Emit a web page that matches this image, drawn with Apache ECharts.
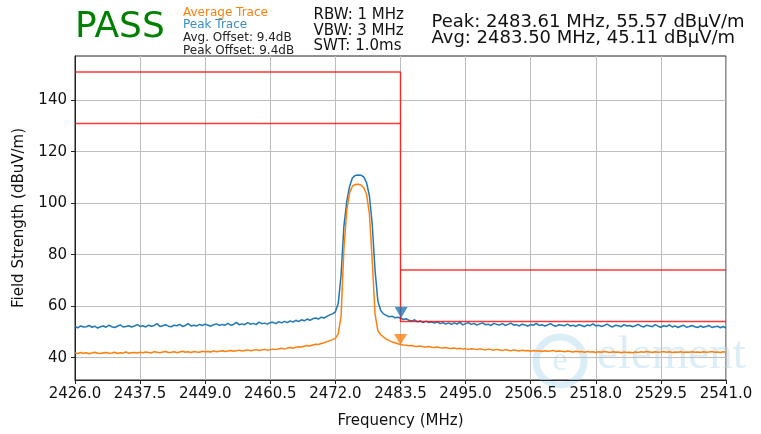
<!DOCTYPE html>
<html><head><meta charset="utf-8">
<script src="https://cdn.jsdelivr.net/npm/echarts@6/dist/echarts.min.js"></script>
<style>html,body{margin:0;padding:0;background:#fff}#c{width:761px;height:434px}</style>
</head><body><div id="c"></div>
<script>
// Sweep definition (MHz)
const sweepStartMHz = 2426.0;
const sweepStepMHz = 0.5;

// Peak trace (dBuV/m), one value per sweep step
const peakTrace = [
52.1,51.6,52.3,51.9,52.0,52.5,51.8,52.2,51.5,52.0,52.3,51.8,52.6,52.0,51.7,52.2,52.7,51.9,52.1,52.4,51.9,52.3,52.8,52.1,
52.4,51.9,52.6,52.2,52.5,53.2,52.1,52.4,52.8,52.2,52.0,52.6,52.4,52.9,52.1,52.5,53.2,52.3,52.6,52.3,52.9,52.5,53.0,
52.6,52.2,52.8,53.1,52.5,52.9,52.6,53.3,52.6,52.9,53.7,52.8,53.1,52.8,53.6,53.0,53.3,52.8,53.8,53.2,53.4,53.0,53.6,
53.7,53.2,54.0,53.5,54.1,53.6,54.3,53.8,54.5,54.0,54.7,54.3,55.0,54.5,55.1,55.4,55.0,55.7,55.4,
56.0,56.6,57.0,57.8,61.0,72.0,91.0,100.5,106.5,109.8,110.8,111.0,110.9,110.2,108.0,103.0,92.0,74.0,62.0,58.3,57.0,56.4,55.9,56.1,55.5,55.7,
55.4,
54.8,55.1,54.5,54.2,54.7,53.9,54.3,53.6,54.2,53.6,53.9,
53.4,53.9,53.2,53.6,53.0,53.5,52.9,53.5,53.0,53.8,52.7,53.2,53.6,52.9,53.3,52.6,53.1,53.5,52.8,53.0,52.5,53.3,52.9,
52.7,53.2,52.5,52.9,53.4,52.6,52.8,52.3,53.0,52.7,52.2,52.9,52.6,53.3,52.5,52.8,52.3,52.7,53.2,52.5,52.2,52.8,52.6,
52.4,53.0,52.3,52.6,52.1,52.8,52.5,52.0,52.7,52.4,53.1,52.3,52.6,52.1,52.5,53.0,52.3,51.9,52.6,52.4,52.0,52.8,52.3,
52.5,52.0,52.4,52.9,52.2,51.9,52.6,52.3,52.0,52.8,52.2,51.8,52.4,52.1,52.7,51.9,52.3,51.7,52.2,52.6,51.8,52.1,52.5,
52.0,51.7,52.3,51.8,52.1,52.5,51.7,52.0,52.2,51.6,52.1,51.5
];

// Average trace (dBuV/m), one value per sweep step
const avgTrace = [
41.8,41.6,42.0,41.7,41.9,41.5,41.8,42.1,41.7,41.6,41.9,42.0,41.7,41.8,42.1,41.6,41.9,41.8,42.2,41.7,41.9,42.0,41.8,42.1,
41.9,42.2,42.0,41.8,42.3,42.1,41.9,42.2,42.4,42.0,42.1,42.3,41.9,42.2,42.5,42.1,42.3,42.0,42.4,42.2,42.1,42.5,42.3,
42.4,42.2,42.6,42.3,42.5,42.7,42.4,42.6,42.8,42.5,42.7,42.9,42.6,42.8,43.0,42.7,42.9,43.1,42.8,43.0,43.2,42.9,43.1,
43.3,43.1,43.4,43.6,43.3,43.7,43.9,43.6,44.0,44.2,44.1,44.4,44.7,44.5,44.9,45.2,45.1,45.5,45.8,
46.2,46.6,47.0,47.5,49.2,56.0,82.0,97.0,104.0,106.6,107.3,107.4,107.1,106.0,103.5,96.0,78.0,57.0,50.5,48.9,48.0,47.2,46.6,46.1,45.8,45.4,
45.11,
44.9,44.8,44.6,44.7,44.4,44.3,44.5,44.2,44.1,44.3,44.0,
43.9,44.1,43.8,43.7,43.9,43.6,43.5,43.7,43.4,43.6,43.3,43.5,43.2,43.4,43.3,43.1,43.4,43.2,43.0,43.3,43.1,42.9,43.2,
43.0,42.8,43.1,42.9,42.7,43.0,42.8,42.6,42.9,42.7,42.8,42.5,42.8,42.6,42.7,42.4,42.7,42.5,42.6,42.8,42.4,42.6,42.5,
42.3,42.6,42.4,42.2,42.5,42.3,42.4,42.1,42.4,42.2,42.3,42.0,42.3,42.1,42.4,42.2,42.0,42.3,42.1,42.2,41.9,42.2,42.0,
42.1,41.9,42.2,42.0,42.3,42.1,42.4,42.2,42.0,42.3,42.1,42.2,42.4,42.1,42.3,42.0,42.2,42.1,42.3,42.0,42.2,42.1,42.3,
42.1,42.2,42.0,42.3,42.1,42.2,42.4,42.1,42.2,42.0,42.3,42.1
];

// Limit lines
const limitPeakFreq = [2426.0, 2483.5, 2483.5, 2541.0];
const limitPeakVal  = [151, 151, 54, 54];
const limitInBandFreq = [2426.0, 2483.5];
const limitInBandVal  = [131, 131];
const limitRestrFreq = [2483.5, 2541.0];
const limitRestrVal  = [74, 74];

// Markers
const peakMarker = [2483.61, 55.57];
const avgMarker  = [2483.50, 45.11];

// Axes
const xTicks = [2426.0, 2437.5, 2449.0, 2460.5, 2472.0, 2483.5, 2495.0, 2506.5, 2518.0, 2529.5, 2541.0];
const yTicks = [40, 60, 80, 100, 120, 140];
const xMin = 2426.0, xMax = 2541.0, yMin = 31.3, yMax = 157.2;

const toPairs = (arr) => arr.map((v, i) => [sweepStartMHz + i * sweepStepMHz, v]);
const zip = (a, b) => a.map((v, i) => [v, b[i]]);

const FONT = 'DejaVu Sans';
const chart = echarts.init(document.getElementById('c'), null, {renderer: 'canvas'});
chart.setOption({
  animation: false,
  backgroundColor: '#fff',
  grid: {left: 75, right: 35, top: 56, bottom: 53, show: true, borderColor: '#222', borderWidth: 1, containLabel: false},
  xAxis: {
    type: 'value', min: xMin, max: xMax,
    name: 'Frequency (MHz)', nameLocation: 'middle', nameGap: 34,
    nameTextStyle: {fontFamily: FONT, fontSize: 15, color: '#111'},
    axisLine: {show: true, lineStyle: {color: '#222', width: 1}},
    axisTick: {show: true, length: 4, inside: false, lineStyle: {color: '#222'}, customValues: xTicks},
    axisLabel: {fontFamily: FONT, fontSize: 15, color: '#111', margin: 7, customValues: xTicks,
      formatter: v => Number(v).toFixed(1)},
    splitLine: {show: true, lineStyle: {color: '#bdbdbd', width: 1}}
  },
  yAxis: {
    type: 'value', min: yMin, max: yMax,
    name: 'Field Strength (dBuV/m)', nameLocation: 'middle', nameGap: 48,
    nameTextStyle: {fontFamily: FONT, fontSize: 15, color: '#111'},
    axisLine: {show: true, lineStyle: {color: '#222', width: 1}},
    axisTick: {show: true, length: 4, inside: false, lineStyle: {color: '#222'}, customValues: yTicks},
    axisLabel: {fontFamily: FONT, fontSize: 15, color: '#111', margin: 8, customValues: yTicks,
      formatter: v => String(Math.round(v))},
    splitLine: {show: true, lineStyle: {color: '#bdbdbd', width: 1}}
  },
  series: [
    {type: 'line', data: toPairs(peakTrace), showSymbol: false, symbol: 'none',
     lineStyle: {color: '#1f77b4', width: 1.5}, z: 2},
    {type: 'line', data: toPairs(avgTrace), showSymbol: false, symbol: 'none',
     lineStyle: {color: '#ff7f0e', width: 1.5}, z: 2},
    {type: 'line', data: zip(limitPeakFreq, limitPeakVal), symbol: 'none',
     lineStyle: {color: 'rgba(255,0,0,0.78)', width: 1.5}, z: 3},
    {type: 'line', data: zip(limitInBandFreq, limitInBandVal), symbol: 'none',
     lineStyle: {color: 'rgba(255,0,0,0.78)', width: 1.5}, z: 3},
    {type: 'line', data: zip(limitRestrFreq, limitRestrVal), symbol: 'none',
     lineStyle: {color: 'rgba(255,0,0,0.78)', width: 1.5}, z: 3},
    {type: 'scatter', data: [peakMarker], symbol: 'triangle', symbolRotate: 180, symbolSize: [13, 11],
     symbolOffset: [0, -5], itemStyle: {color: '#1f77b4'}, z: 4},
    {type: 'scatter', data: [avgMarker], symbol: 'triangle', symbolRotate: 180, symbolSize: [13, 11],
     symbolOffset: [0, -5], itemStyle: {color: '#ff7f0e'}, z: 4}
  ],
  graphic: [
    {type: 'circle', shape: {cx: 560, cy: 361, r: 24}, style: {fill: 'none', stroke: 'rgba(190,222,240,0.55)', lineWidth: 7}, z: 0, silent: true},
    {type: 'text', style: {x: 560, y: 361, text: 'e', font: '34px "Liberation Serif"', fill: 'rgba(190,222,240,0.5)', align: 'center', verticalAlign: 'middle'}, z: 0, silent: true},
    {type: 'text', style: {x: 597, y: 356, text: 'element', font: '47px "Liberation Serif"', fill: 'rgba(190,222,240,0.55)', align: 'left', verticalAlign: 'middle'}, z: 0, silent: true},
    {type: 'text', style: {x: 75, y: 28, text: 'PASS', font: '36px "DejaVu Sans"', fill: '#008000', align: 'left', verticalAlign: 'middle'}},
    {type: 'text', style: {x: 183, y: 12.5, text: 'Average Trace', font: '12px "DejaVu Sans"', fill: '#ff7f0e', align: 'left', verticalAlign: 'middle'}},
    {type: 'text', style: {x: 183, y: 25.3, text: 'Peak Trace', font: '12px "DejaVu Sans"', fill: '#3a8cc6', align: 'left', verticalAlign: 'middle'}},
    {type: 'text', style: {x: 183, y: 38.1, text: 'Avg. Offset: 9.4dB', font: '12px "DejaVu Sans"', fill: '#222', align: 'left', verticalAlign: 'middle'}},
    {type: 'text', style: {x: 183, y: 50.8, text: 'Peak Offset: 9.4dB', font: '12px "DejaVu Sans"', fill: '#222', align: 'left', verticalAlign: 'middle'}},
    {type: 'text', style: {x: 313.5, y: 15.5, text: 'RBW: 1 MHz', font: '15px "DejaVu Sans"', fill: '#111', align: 'left', verticalAlign: 'middle'}},
    {type: 'text', style: {x: 313.5, y: 30.8, text: 'VBW: 3 MHz', font: '15px "DejaVu Sans"', fill: '#111', align: 'left', verticalAlign: 'middle'}},
    {type: 'text', style: {x: 313.5, y: 45.8, text: 'SWT: 1.0ms', font: '15px "DejaVu Sans"', fill: '#111', align: 'left', verticalAlign: 'middle'}},
    {type: 'text', style: {x: 431.5, y: 22, text: 'Peak: 2483.61 MHz, 55.57 dBµV/m', font: '18px "DejaVu Sans"', fill: '#111', align: 'left', verticalAlign: 'middle'}},
    {type: 'text', style: {x: 431.5, y: 38, text: 'Avg: 2483.50 MHz, 45.11 dBµV/m', font: '18px "DejaVu Sans"', fill: '#111', align: 'left', verticalAlign: 'middle'}}
  ]
});
</script>
</body></html>
